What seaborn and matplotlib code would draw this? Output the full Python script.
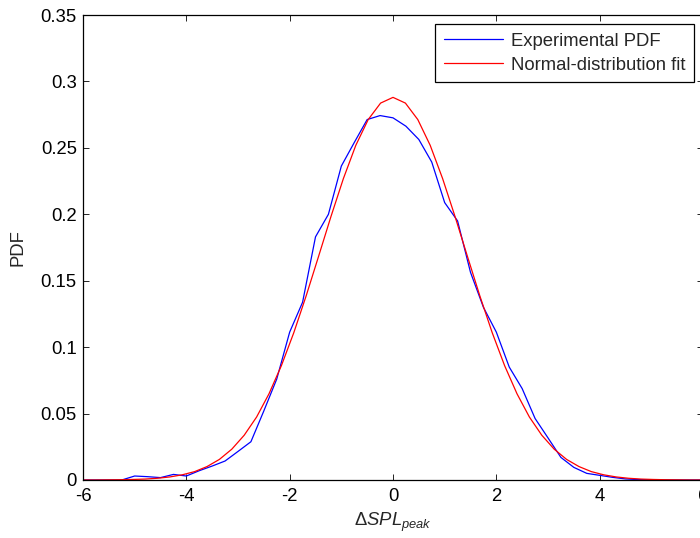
import matplotlib
matplotlib.use("Agg")
import matplotlib.pyplot as plt
import seaborn as sns
import pandas as pd

# Experimental PDF (blue), sampled every 0.25
x_exp = [-6.00, -5.75, -5.50, -5.25, -5.00, -4.75, -4.50, -4.25, -4.00, -3.75,
         -3.50, -3.25, -3.00, -2.75, -2.50, -2.25, -2.00, -1.75, -1.50, -1.25,
         -1.00, -0.75, -0.50, -0.25, 0.00, 0.25, 0.50, 0.75, 1.00, 1.25,
         1.50, 1.75, 2.00, 2.25, 2.50, 2.75, 3.00, 3.25, 3.50, 3.75,
         4.00, 4.25, 4.50, 4.75, 5.00, 5.25, 5.50, 5.75, 6.00]
pdf_exp = [0.0, 0.0, 0.0, 0.0, 0.003, 0.0025, 0.0018, 0.0042, 0.003, 0.007,
           0.0105, 0.0143, 0.0215, 0.0288, 0.052, 0.076, 0.1113, 0.1338, 0.183, 0.200,
           0.2363, 0.254, 0.2713, 0.2743, 0.2726, 0.2663, 0.2563, 0.2393, 0.2088, 0.195,
           0.1563, 0.130, 0.1113, 0.085, 0.0688, 0.0463, 0.0317, 0.017, 0.0095, 0.005,
           0.0035, 0.002, 0.0008, 0.0003, 0.0001, 0.0, 0.0, 0.0, 0.0]

# Normal-distribution fit (red), sampled every 0.24
x_fit = [-6.00, -5.76, -5.52, -5.28, -5.04, -4.80, -4.56, -4.32, -4.08, -3.84,
         -3.60, -3.36, -3.12, -2.88, -2.64, -2.40, -2.16, -1.92, -1.68, -1.44,
         -1.20, -0.96, -0.72, -0.48, -0.24, 0.00, 0.24, 0.48, 0.72, 0.96,
         1.20, 1.44, 1.68, 1.92, 2.16, 2.40, 2.64, 2.88, 3.12, 3.36,
         3.60, 3.84, 4.08, 4.32, 4.56, 4.80, 5.04, 5.28, 5.52, 5.76, 6.00]
pdf_fit = [0.0, 0.0, 0.0001, 0.0002, 0.0004, 0.0007, 0.0013, 0.0023, 0.0039, 0.0063,
           0.0101, 0.0155, 0.0232, 0.0337, 0.0474, 0.0649, 0.0861, 0.1109, 0.1387, 0.1684,
           0.1984, 0.2269, 0.2519, 0.2713, 0.2837, 0.288, 0.2837, 0.2713, 0.2519, 0.2269,
           0.1984, 0.1684, 0.1387, 0.1109, 0.0861, 0.0649, 0.0474, 0.0337, 0.0232, 0.0155,
           0.0101, 0.0063, 0.0039, 0.0023, 0.0013, 0.0007, 0.0004, 0.0002, 0.0001, 0.0, 0.0]

x_ticks = [-6, -4, -2, 0, 2, 4, 6]
y_ticks = [0, 0.05, 0.1, 0.15, 0.2, 0.25, 0.3, 0.35]
y_ticklabels = ["0", "0.05", "0.1", "0.15", "0.2", "0.25", "0.3", "0.35"]

sns.set_style("ticks")
plt.rcParams["font.family"] = ["Liberation Sans", "DejaVu Sans"]
plt.rcParams["mathtext.fontset"] = "custom"
plt.rcParams["mathtext.rm"] = "Liberation Sans"
plt.rcParams["mathtext.it"] = "Liberation Sans:italic"
plt.rcParams["mathtext.bf"] = "Liberation Sans:bold"

fs = 13.3
fig = plt.figure(figsize=(7.0, 5.38), dpi=100)
ax = fig.add_axes([83 / 700, 1 - 480 / 538, 620 / 700, (480 - 15) / 538])

df_exp = pd.DataFrame({"x": x_exp, "pdf": pdf_exp})
df_fit = pd.DataFrame({"x": x_fit, "pdf": pdf_fit})
sns.lineplot(data=df_exp, x="x", y="pdf", color="#0000ff", lw=0.9,
             label="Experimental PDF", ax=ax, sort=False)
sns.lineplot(data=df_fit, x="x", y="pdf", color="#ff0000", lw=0.9,
             label="Normal-distribution fit", ax=ax, sort=False)

ax.set_xlim(-6, 6)
ax.set_ylim(0, 0.35)
ax.set_xticks(x_ticks)
ax.set_xticklabels([str(t) for t in x_ticks], fontsize=fs)
ax.set_yticks(y_ticks)
ax.set_yticklabels(y_ticklabels, fontsize=fs)
ax.tick_params(direction="in", top=True, right=True, length=4.5, width=0.6,
               colors="black")
ax.tick_params(axis="x", pad=6)
ax.tick_params(axis="y", pad=4.5)
for s in ax.spines.values():
    s.set_visible(True)
    s.set_linewidth(0.9)
    s.set_color("black")

ax.set_xlabel(r"$\Delta\mathit{SPL}_{\mathit{peak}}$", fontsize=fs, labelpad=4)
ax.set_ylabel("PDF", fontsize=fs, labelpad=10)

leg = ax.legend(loc="upper right", fontsize=fs, frameon=True, fancybox=False,
                edgecolor="black", framealpha=1, handlelength=3.2,
                handletextpad=0.45, labelspacing=0.4, borderpad=0.45,
                borderaxespad=0.5)
leg.get_frame().set_linewidth(0.9)

fig.savefig("out.png", dpi=100)
